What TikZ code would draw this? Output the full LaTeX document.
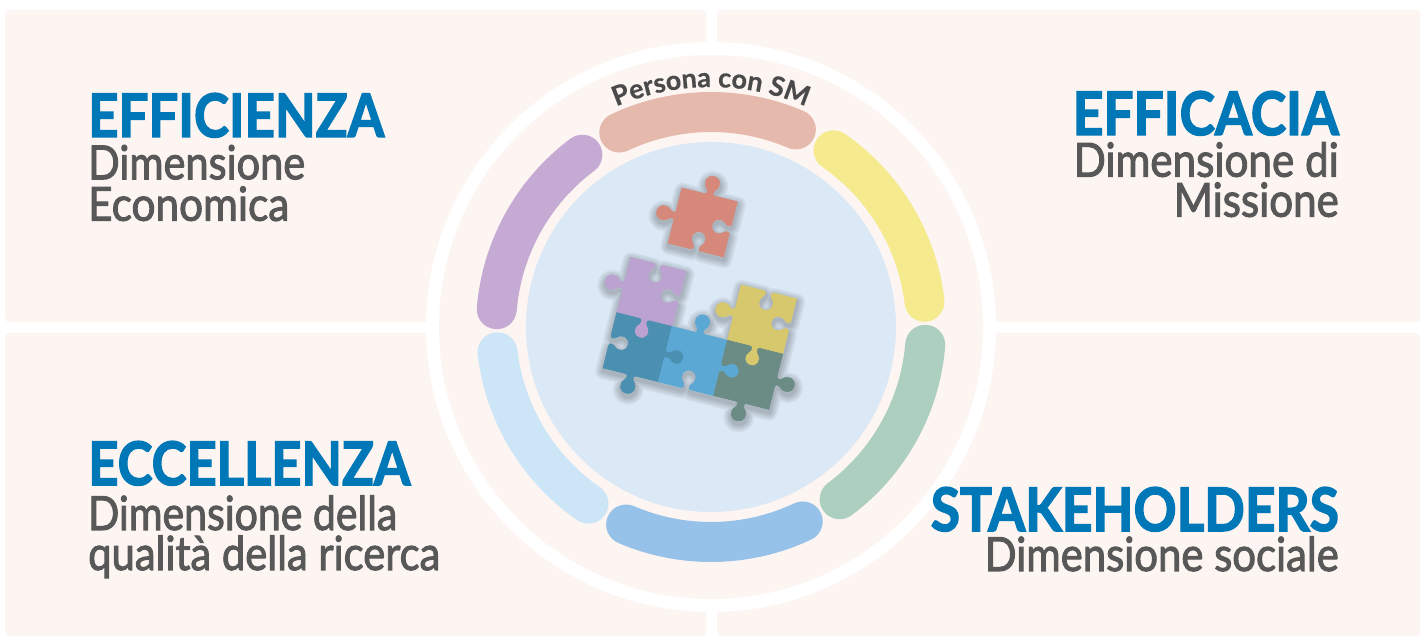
\documentclass[tikz,border=0pt]{standalone}
\usepackage{fontspec}
\setmainfont{Lato}
\newfontfamily\titlefont{Lato}[BoldFeatures={FakeBold=2.5}]
\newfontfamily\subfont{Lato}[FakeBold=2.2]
\newfontfamily\persfont{Lato}[BoldFeatures={FakeBold=0.6}]
\usetikzlibrary{decorations.text}

\definecolor{panelc}{HTML}{FDF5F2}
\definecolor{titleblue}{HTML}{0077B6}
\definecolor{subgray}{HTML}{585858}
\definecolor{persc}{HTML}{4A4A4A}
\definecolor{innerc}{HTML}{DBE8F5}
\definecolor{segpink}{HTML}{E6B9AD}
\definecolor{segyellow}{HTML}{F5EA8E}
\definecolor{seggreen}{HTML}{ACCFBF}
\definecolor{segblue}{HTML}{96C1E8}
\definecolor{seglight}{HTML}{CCE6F7}
\definecolor{segpurple}{HTML}{C5AAD3}
\definecolor{pzorange}{HTML}{D6897A}
\definecolor{pzpurple}{HTML}{BBA2D0}
\definecolor{pzteal}{HTML}{4B8FB1}
\definecolor{pzblue}{HTML}{5CA8D4}
\definecolor{pzyellow}{HTML}{D8C86D}
\definecolor{pzgreen}{HTML}{6A8C84}

% one edge of a jigsaw piece: start (#1,#2), direction (#3,#4),
% #5 = 1 for a tab (knob to the right of travel), -1 for a slot
\newcommand\kn[5]{%
 -- ({#1+0.40*(#3)},{#2+0.40*(#4)})
 .. controls ({#1+0.45*(#3)},{#2+0.45*(#4)})
 and ({#1+0.46*(#3)+0.04*(#5)*(#4)},{#2+0.46*(#4)-0.04*(#5)*(#3)})
 .. ({#1+0.43*(#3)+0.09*(#5)*(#4)},{#2+0.43*(#4)-0.09*(#5)*(#3)})
 .. controls ({#1+0.32*(#3)+0.20*(#5)*(#4)},{#2+0.32*(#4)-0.20*(#5)*(#3)})
 and ({#1+0.38*(#3)+0.33*(#5)*(#4)},{#2+0.38*(#4)-0.33*(#5)*(#3)})
 .. ({#1+0.50*(#3)+0.33*(#5)*(#4)},{#2+0.50*(#4)-0.33*(#5)*(#3)})
 .. controls ({#1+0.62*(#3)+0.33*(#5)*(#4)},{#2+0.62*(#4)-0.33*(#5)*(#3)})
 and ({#1+0.68*(#3)+0.20*(#5)*(#4)},{#2+0.68*(#4)-0.20*(#5)*(#3)})
 .. ({#1+0.57*(#3)+0.09*(#5)*(#4)},{#2+0.57*(#4)-0.09*(#5)*(#3)})
 .. controls ({#1+0.54*(#3)+0.04*(#5)*(#4)},{#2+0.54*(#4)-0.04*(#5)*(#3)})
 and ({#1+0.55*(#3)},{#2+0.55*(#4)})
 .. ({#1+0.60*(#3)},{#2+0.60*(#4)})
 -- ({#1+(#3)},{#2+(#4)})}

% a unit piece with lower left corner (#1,#2); edges bottom, right, top, left
\newcommand\piece[6]{%
 (#1,#2) \kn{#1}{#2}{1}{0}{#3} \kn{#1+1}{#2}{0}{1}{#4}
 \kn{#1+1}{#2+1}{-1}{0}{#5} \kn{#1}{#2+1}{0}{-1}{#6} -- cycle}

\newcommand\fitw[2]{\resizebox{#1}{\height}{#2}}

\tikzset{
  panel/.style={fill=panelc, rounded corners=4pt},
  arcseg/.style={line width=40pt, line cap=round},
  titletext/.style={inner sep=0pt, text=titleblue,
    font=\fontsize{60}{60}\titlefont\bfseries},
  subtext/.style={inner sep=0pt, text=subgray,
    font=\fontsize{47}{47}\subfont},
  pzshadow/.style={draw=black, opacity=0.06, line join=round},
  pzpiece/.style={line join=round, line width=0.6pt},
}

\begin{document}
\begin{tikzpicture}[x=1pt,y=1pt]
\useasboundingbox (0,0) rectangle (1424,637);
\fill[white] (0,0) rectangle (1424,637);

% four background panels
\path[panel] (5,315) rectangle (706,627);
\path[panel] (717,315) rectangle (1420,627);
\path[panel] (5,1) rectangle (706,304);
\path[panel] (717,1) rectangle (1420,304);

% central wheel
\coordinate (C) at (711,310);
\fill[white] (C) circle[radius=285];
\fill[panelc] (C) circle[radius=272];

\draw[arcseg, segyellow] ([shift={(6.75:215)}]C) arc[start angle=6.75, end angle=55.25, radius=215];
\draw[arcseg, segpink] ([shift={(66.75:215)}]C) arc[start angle=66.75, end angle=115.25, radius=215];
\draw[arcseg, segpurple] ([shift={(126.75:215)}]C) arc[start angle=126.75, end angle=175.25, radius=215];
\draw[arcseg, seglight] ([shift={(186.75:215)}]C) arc[start angle=186.75, end angle=235.25, radius=215];
\draw[arcseg, segblue] ([shift={(246.75:215)}]C) arc[start angle=246.75, end angle=295.25, radius=215];
\draw[arcseg, seggreen] ([shift={(306.75:215)}]C) arc[start angle=306.75, end angle=355.25, radius=215];

\fill[innerc] (C) circle[radius=185];

% label along the top segment
\path[decorate, decoration={text along path, text align=center, text color=persc,
  text={|\fontsize{27}{27}\persfont\bfseries|Persona con SM}}]
  ([shift={(124:240)}]C) arc[start angle=124, end angle=56, radius=240];

% puzzle pieces
\begin{scope}[shift={(603,269)}, rotate=-14, scale=57]
  \foreach \w in {16,12,8,4} {
    \path[pzshadow, line width=\w pt, shift={(0.02,-0.05)}]
      \piece{0}{0}{1}{1}{-1}{-1} \piece{1}{0}{-1}{1}{1}{-1}
      \piece{2}{0}{1}{1}{-1}{-1} \piece{0}{1}{1}{-1}{-1}{1}
      \piece{2}{1}{1}{-1}{-1}{1} \piece{0.58}{2.40}{-1}{-1}{1}{1};
  }
  \filldraw[pzpiece, pzorange] \piece{0.58}{2.40}{-1}{-1}{1}{1};
  \filldraw[pzpiece, pzpurple] \piece{0}{1}{1}{-1}{-1}{1};
  \filldraw[pzpiece, pzyellow] \piece{2}{1}{1}{-1}{-1}{1};
  \filldraw[pzpiece, pzteal] \piece{0}{0}{1}{1}{-1}{-1};
  \filldraw[pzpiece, pzblue] \piece{1}{0}{-1}{1}{1}{-1};
  \filldraw[pzpiece, pzgreen] \piece{2}{0}{1}{1}{-1}{-1};
\end{scope}

% quadrant texts
\node[titletext, anchor=base west] (effic) at (88,500) {\fitw{296pt}{EFFICIENZA}};
\node[subtext, anchor=base west] (effa) at (88,457.7) {\fitw{217pt}{Dimensione}};
\node[subtext, anchor=base west] (effb) at (88,416.3) {\fitw{201pt}{Economica}};

\node[titletext, anchor=base east] (effica) at (1339,502) {\fitw{266pt}{EFFICACIA}};
\node[subtext, anchor=base east] (efcaa) at (1339,460.3) {\fitw{265pt}{Dimensione di}};
\node[subtext, anchor=base east] (efcab) at (1339,420.3) {\fitw{165pt}{Missione}};

\node[titletext, anchor=base west] (eccel) at (88,152) {\fitw{322pt}{ECCELLENZA}};
\node[subtext, anchor=base west] (eccea) at (88,107) {\fitw{309pt}{Dimensione della}};
\node[subtext, anchor=base west] (ecceb) at (88,67) {\fitw{352pt}{qualità della ricerca}};

\node[titletext, anchor=base east] (stake) at (1339,106) {\fitw{408pt}{STAKEHOLDERS}};
\node[subtext, anchor=base east] (stakea) at (1339,66) {\fitw{354pt}{Dimensione sociale}};
\end{tikzpicture}
\end{document}
